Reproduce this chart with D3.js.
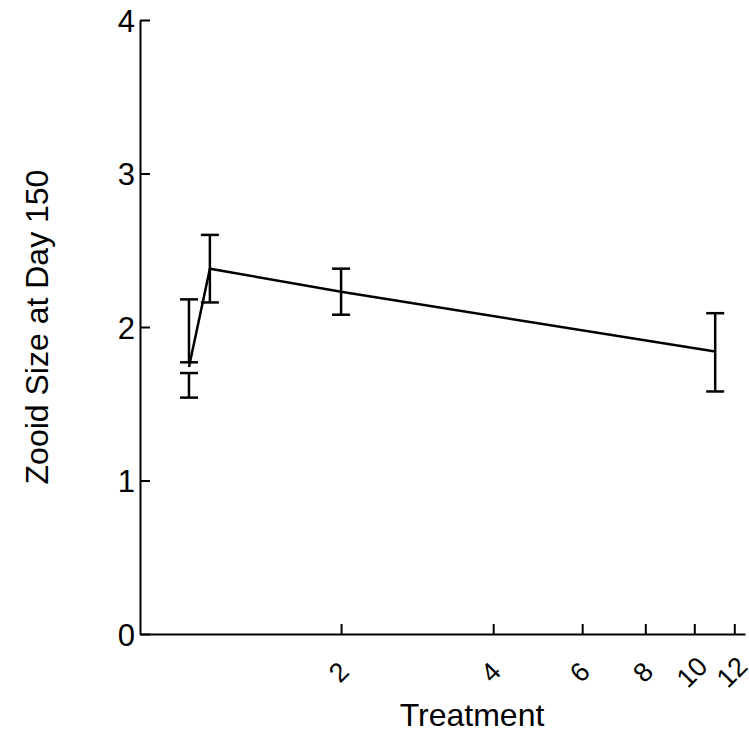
<!DOCTYPE html><html><head><script src="https://cdn.jsdelivr.net/npm/d3@7"></script>
<style>body{margin:0;background:#fff}text{font-family:"Liberation Sans",Arial,sans-serif}</style></head><body>
<svg id="c" width="749" height="737"></svg>
<script>
const treatment=[1,1.1,2,11];
const size=[1.74,2.38,2.23,1.84];
const errX=[1,1,1.1,2,11];
const errLo=[1.77,1.54,2.16,2.08,1.58];
const errHi=[2.18,1.70,2.60,2.38,2.09];
const xTicks=[2,4,6,8,10,12];
const yTicks=[0,1,2,3,4];
const svg=d3.select("#c");
const x=d3.scaleLog().domain([0.8,12.6]).range([140,745]);
const y=d3.scaleLinear().domain([0,4]).range([634,20]);
const xa=svg.append("g").attr("transform","translate(0,634)").call(d3.axisBottom(x).tickValues(xTicks).tickFormat(d3.format("d")).tickSizeInner(-10).tickSizeOuter(0));
xa.select(".domain").attr("stroke-width",2);
xa.selectAll(".tick line").attr("stroke-width",2);
xa.selectAll(".tick text").style("font-size","27px").attr("transform","translate(-3,38) rotate(-45)").attr("dy","0.35em").attr("y",0).attr("text-anchor","middle");
const ya=svg.append("g").attr("transform","translate(140,0)").call(d3.axisLeft(y).tickValues(yTicks).tickFormat(d3.format("d")).tickSizeInner(-10).tickSizeOuter(0));
ya.select(".domain").attr("stroke-width",2);
ya.selectAll(".tick line").attr("stroke-width",2);
ya.selectAll(".tick text").style("font-size","31px").attr("x",-5).attr("dy","0.36em");
svg.append("path").datum(treatment.map((t,i)=>[t,size[i]])).attr("fill","none").attr("stroke","#000").attr("stroke-width",2.5)
 .attr("d",d3.line().x(d=>x(d[0])).y(d=>y(d[1])));
const g=svg.append("g").attr("stroke","#000").attr("stroke-width",2.5);
errX.forEach((t,i)=>{const cx=x(t);
 g.append("line").attr("x1",cx).attr("x2",cx).attr("y1",y(errLo[i])).attr("y2",y(errHi[i]));
 [errLo[i],errHi[i]].forEach(v=>g.append("line").attr("x1",cx-9).attr("x2",cx+9).attr("y1",y(v)).attr("y2",y(v)));});
svg.append("text").attr("x",472).attr("y",726).attr("text-anchor","middle").style("font-size","32px").text("Treatment");
svg.append("text").attr("transform","translate(48,327) rotate(-90)").attr("text-anchor","middle").style("font-size","32px").text("Zooid Size at Day 150");
</script></body></html>
